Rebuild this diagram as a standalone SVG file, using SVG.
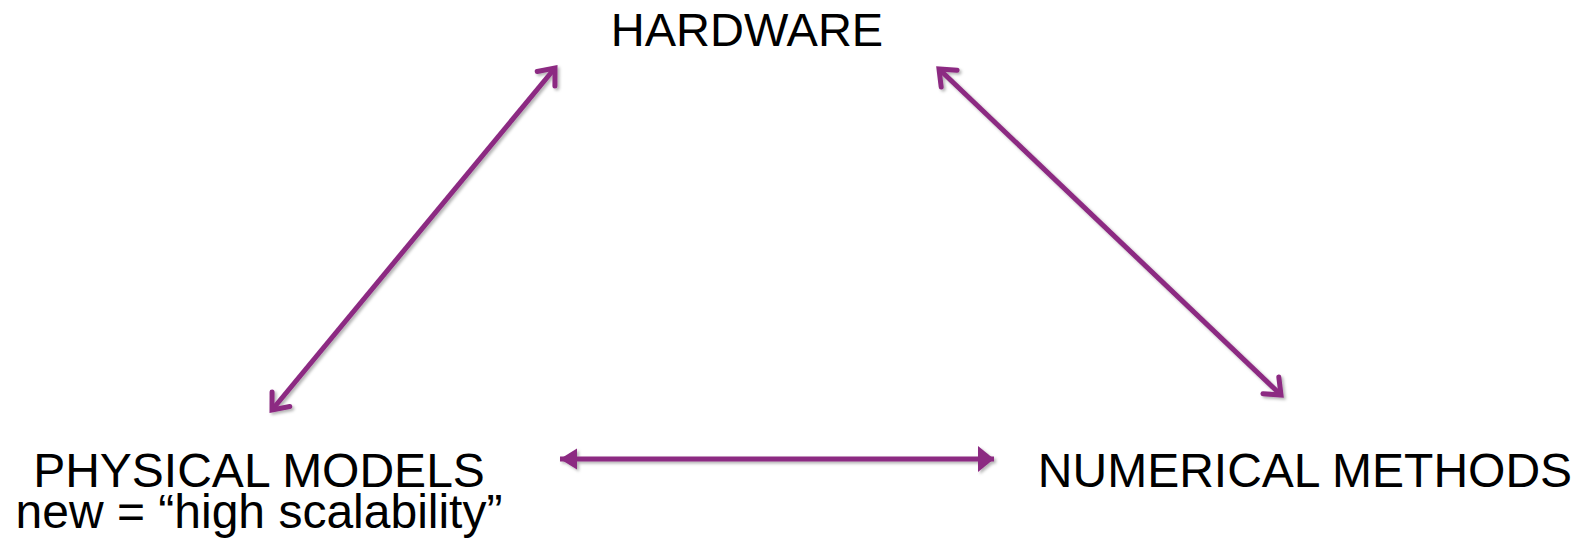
<svg xmlns="http://www.w3.org/2000/svg" width="1590" height="552" viewBox="0 0 1590 552">
  <style>
    .label { font-family: "Liberation Sans", Arial, Helvetica, sans-serif; font-size: 48px; fill: #000; text-anchor: middle; }
    .link { stroke: #8C2A82; stroke-width: 5; fill: none; }
  </style>
  <defs>
    <filter id="shadow" x="-10%" y="-10%" width="120%" height="120%">
      <feDropShadow dx="2" dy="2" stdDeviation="1.5" flood-color="#000" flood-opacity="0.3"/>
    </filter>
    <!-- open V head for the diagonal links -->
    <marker id="vhead" markerUnits="userSpaceOnUse" orient="auto-start-reverse" refX="0" refY="0" markerWidth="40" markerHeight="40" viewBox="-20 -20 40 40" overflow="visible">
      <path d="M-14,-11.5 L0,0 L-14,11.5" fill="none" stroke="#8C2A82" stroke-width="5" stroke-linecap="round" stroke-linejoin="miter"/>
    </marker>
    <!-- filled triangle heads for the horizontal link -->
    <marker id="triStart" markerUnits="userSpaceOnUse" orient="auto" refX="0" refY="0" markerWidth="40" markerHeight="40" viewBox="-20 -20 40 40" overflow="visible">
      <path d="M0,0 L17,-10.5 L17,10.5 Z" fill="#8C2A82"/>
    </marker>
    <marker id="triEnd" markerUnits="userSpaceOnUse" orient="auto" refX="0" refY="0" markerWidth="40" markerHeight="40" viewBox="-20 -20 40 40" overflow="visible">
      <path d="M0,0 L-16,-13 L-16,13 Z" fill="#8C2A82"/>
    </marker>
  </defs>

  <rect width="1590" height="552" fill="#fff"/>

  <g id="connectors" filter="url(#shadow)">
    <line class="link" x1="272" y1="410" x2="555" y2="68" marker-start="url(#vhead)" marker-end="url(#vhead)"/>
    <line class="link" x1="939" y1="69" x2="1281" y2="395" marker-start="url(#vhead)" marker-end="url(#vhead)"/>
    <line class="link" x1="560" y1="459" x2="994" y2="459" marker-start="url(#triStart)" marker-end="url(#triEnd)"/>
  </g>

  <g id="node-hardware">
    <text class="label" x="747" y="46" style="font-size:47px">HARDWARE</text>
  </g>
  <g id="node-physical-models">
    <text class="label" x="259" y="487">PHYSICAL MODELS</text>
    <text class="label" x="259" y="528">new = “high scalability”</text>
  </g>
  <g id="node-numerical-methods">
    <text class="label" x="1305" y="487">NUMERICAL METHODS</text>
  </g>
</svg>
